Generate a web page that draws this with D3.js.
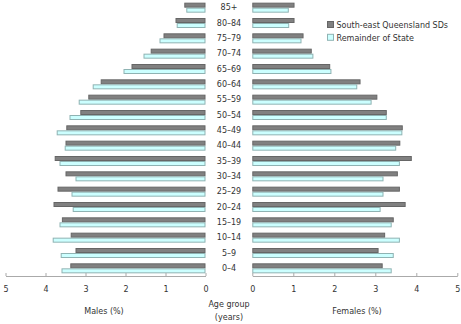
<!DOCTYPE html>
<html><head><meta charset="utf-8">
<script src="https://cdn.jsdelivr.net/npm/d3@7"></script>
<style>
body{margin:0;background:#fff;}
svg{display:block;font-family:"DejaVu Sans",Verdana,sans-serif;}
</style></head>
<body><svg id="chart" width="461" height="324"></svg>
<script>
const ageGroups = ["85+","80–84","75–79","70–74","65–69","60–64","55–59","50–54","45–49","40–44","35–39","30–34","25–29","20–24","15–19","10–14","5–9","0–4"];
const maleSEQ = [0.53,0.75,1.05,1.37,1.85,2.62,2.93,3.13,3.48,3.50,3.77,3.50,3.70,3.80,3.59,3.37,3.25,3.38];
const maleRest = [0.48,0.72,1.15,1.55,2.05,2.82,3.17,3.40,3.72,3.52,3.65,3.25,3.35,3.32,3.65,3.82,3.62,3.60];
const femaleSEQ = [1.03,1.03,1.25,1.45,1.90,2.64,3.05,3.28,3.67,3.61,3.89,3.55,3.60,3.74,3.45,3.24,3.08,3.18];
const femaleRest = [0.89,0.90,1.20,1.49,1.93,2.56,2.91,3.28,3.66,3.51,3.60,3.20,3.20,3.13,3.40,3.60,3.45,3.40];
const tickValues = [0,1,2,3,4,5];
const seriesNames = ["South-east Queensland SDs","Remainder of State"];

const svg = d3.select("#chart");
const darkFill = "#808080", darkStroke = "#666666";
const lightFill = "#ccffff", lightStroke = "#8fb3b3";
const textCol = "#333333";

const y = d3.scaleBand().domain(ageGroups).range([0, 276]);
const xL = d3.scaleLinear().domain([0,5]).range([205.5, 5.5]);
const xR = d3.scaleLinear().domain([0,5]).range([252.3, 457.3]);
const bh = 5;

function drawSide(scale, seq, rest, left) {
  const g = svg.append("g");
  ageGroups.forEach((a,i)=>{
    const c = y(a) + y.bandwidth()/2;
    [[seq[i], c-bh, darkFill, darkStroke],[rest[i], c, lightFill, lightStroke]].forEach(([v,yy,f,s])=>{
      const x0 = scale(0), x1 = scale(v);
      g.append("rect")
        .attr("x", Math.min(x0,x1)+0.5).attr("y", yy+0.5)
        .attr("width", Math.abs(x1-x0)-1).attr("height", bh-1)
        .attr("fill", f).attr("stroke", s).attr("stroke-width", 1);
    });
  });
  const axis = d3.axisBottom(scale).tickValues(tickValues).tickSize(0).tickPadding(10).tickFormat(d3.format("d"));
  const ax = svg.append("g").attr("transform","translate(0,276)").call(axis);
  ax.select(".domain").attr("stroke","#aaaaaa");
  ax.selectAll(".tick text").attr("fill",textCol).attr("font-size","8px").attr("font-family","DejaVu Sans, Verdana, sans-serif");
  ax.selectAll(".tick").append("line").attr("y1",0).attr("y2",-3).attr("stroke","#aaaaaa");
}
drawSide(xL, maleSEQ, maleRest, true);
drawSide(xR, femaleSEQ, femaleRest, false);

// category labels
svg.append("g").selectAll("text").data(ageGroups).join("text")
  .attr("x", 229).attr("y", d=>y(d)+y.bandwidth()/2)
  .attr("dy","0.35em").attr("text-anchor","middle")
  .attr("font-size","8px").attr("fill",textCol).text(d=>d);

// axis titles
const titles = [["Males (%)",104,314],["Age group",229,307],["(years)",229,320],["Females (%)",357,314]];
svg.append("g").selectAll("text").data(titles).join("text")
  .attr("x",d=>d[1]).attr("y",d=>d[2]).attr("text-anchor","middle")
  .attr("font-size","8px").attr("fill",textCol).text(d=>d[0]);

// legend
const leg = svg.append("g").attr("transform","translate(327,21)");
seriesNames.forEach((n,i)=>{
  const gy = i*12.8;
  leg.append("rect").attr("x",0.5).attr("y",gy+0.5).attr("width",6).attr("height",6)
    .attr("fill", i===0?darkFill:lightFill).attr("stroke", i===0?darkStroke:lightStroke);
  leg.append("text").attr("x",9.5).attr("y",gy+4).attr("dy","0.35em")
    .attr("font-size","8px").attr("fill",textCol).text(n);
});
</script></body></html>
